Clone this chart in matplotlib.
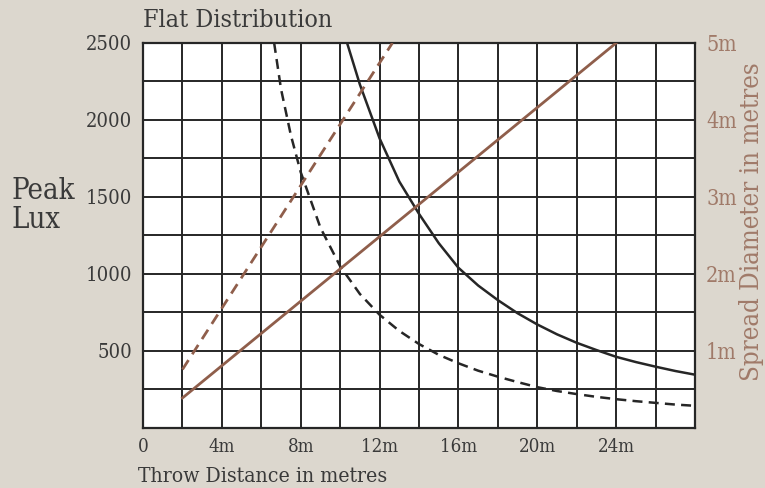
import matplotlib
matplotlib.use("Agg")
import matplotlib.pyplot as plt

plt.rcParams['font.family'] = ['DejaVu Serif']
plt.rcParams['font.stretch'] = 'condensed'

# data
# peak lux curves
solid_d = [10.35, 11, 12, 13, 14, 15, 16, 17, 18, 19, 20, 21, 22, 23, 24, 25, 26, 27, 28]
solid_lux = [2500, 2230, 1880, 1600, 1390, 1200, 1040, 925, 830, 745, 672, 608, 553, 506, 462, 428, 398, 370, 346]

dashed_d = [6.65, 7, 7.5, 8, 9, 10, 11, 12, 13, 14, 15, 16, 17, 18, 19, 20, 21, 22, 23, 24, 25, 26, 27, 28]
dashed_lux = [2500, 2200, 1900, 1660, 1300, 1050, 870, 735, 630, 545, 475, 420, 372, 333, 298, 265, 240, 220, 202, 187, 174, 163, 152, 144]

# spread diameter lines (right axis, metres)
spread_solid_d = [2, 24]
spread_solid = [0.39, 5.0]
spread_dashed_d = [2, 12.65]
spread_dashed = [0.76, 5.0]

x_ticks = list(range(0, 29, 2))
x_labels = ['0', '', '4m', '', '8m', '', '12m', '', '16m', '', '20m', '', '24m', '', '']
y_ticks = list(range(0, 2501, 250))
y_labels = ['', '', '500', '', '1000', '', '1500', '', '2000', '', '2500']
r_ticks = [0, 0.5, 1, 1.5, 2, 2.5, 3, 3.5, 4, 4.5, 5]
r_labels = ['', '', '1m', '', '2m', '', '3m', '', '4m', '', '5m']

bg = '#dcd7ce'
brown = '#8f5e4b'
brown_text = '#a07a69'
ink = '#262626'
text_col = '#3a3a3a'

fig = plt.figure(figsize=(7.65, 4.88), dpi=100, facecolor=bg)
ax = fig.add_axes([0.187, 0.123, 0.7215, 0.789])
ax.set_facecolor('white')

ax.plot(solid_d, solid_lux, color=ink, lw=1.8, zorder=3)
ax.plot(dashed_d, dashed_lux, color=ink, lw=1.8, dashes=(4, 2.5), zorder=3)

ax.set_xlim(0, 28)
ax.set_ylim(0, 2500)
ax.set_xticks(x_ticks)
ax.set_xticklabels(x_labels)
ax.set_yticks(y_ticks)
ax.set_yticklabels(y_labels)
ax.tick_params(axis='x', length=0, labelsize=13.5, colors=text_col, pad=7)
ax.tick_params(axis='y', length=0, labelsize=14.5, colors=text_col, pad=8)
ax.grid(True, color=ink, lw=1.4)
for s in ax.spines.values():
    s.set_color(ink)
    s.set_linewidth(1.6)

ax2 = ax.twinx()
ax2.plot(spread_solid_d, spread_solid, color=brown, lw=2.0, zorder=3)
ax2.plot(spread_dashed_d, spread_dashed, color=brown, lw=2.0, dashes=(4, 2.5), zorder=3)
ax2.set_ylim(0, 5)
ax2.set_yticks(r_ticks)
ax2.set_yticklabels(r_labels)
ax2.tick_params(length=0, labelsize=15.5, colors=brown_text, pad=8)
for s in ax2.spines.values():
    s.set_visible(False)

fig.text(0.187, 0.957, 'Flat Distribution', fontsize=18, color=text_col, va='center', ha='left')
fig.text(0.015, 0.578, 'Peak\nLux', fontsize=21, color=text_col, va='center', ha='left', linespacing=1.05)
fig.text(0.18, 0.004, 'Throw Distance in metres', fontsize=15.2, color=text_col, va='bottom', ha='left')
fig.text(0.983, 0.545, 'Spread Diameter in metres', fontsize=18.5, color=brown_text,
         rotation=90, va='center', ha='center')

fig.savefig('out.png', dpi=100, facecolor=bg)
